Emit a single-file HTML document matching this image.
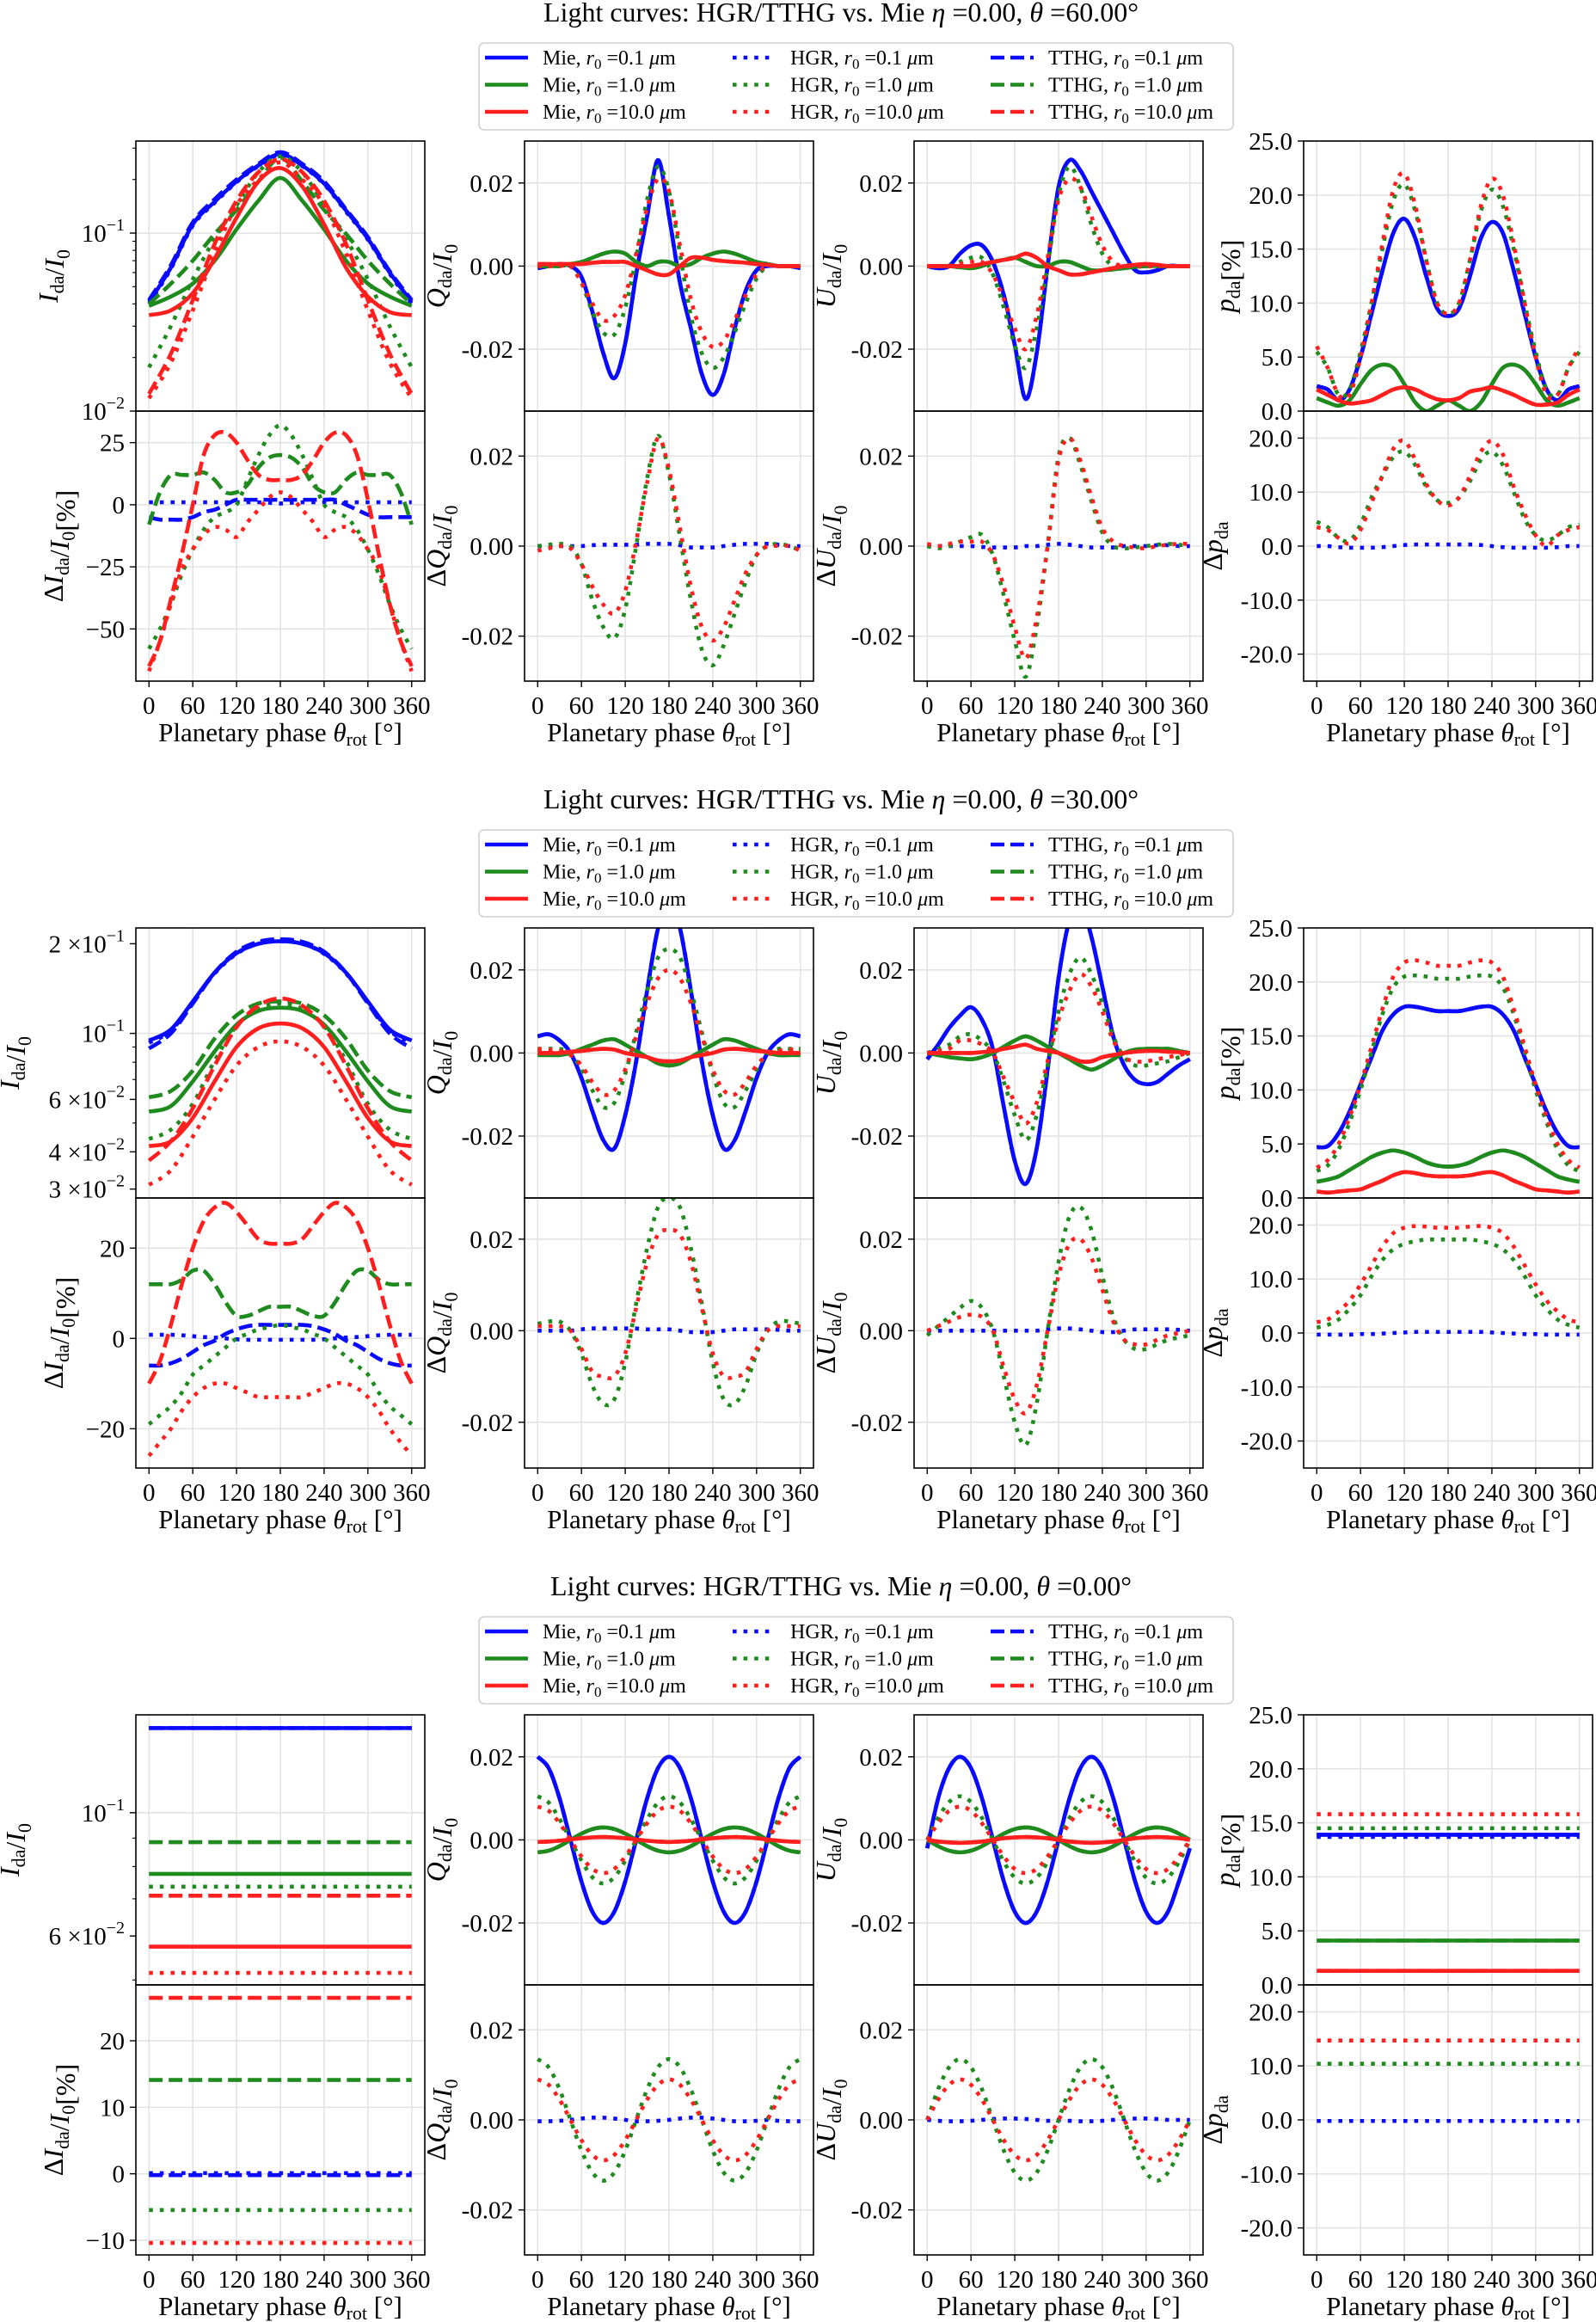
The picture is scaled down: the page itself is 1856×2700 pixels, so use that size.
<!DOCTYPE html>
<html><head><meta charset="utf-8"><title>Light curves</title>
<style>
html,body{margin:0;padding:0;background:#fff;}
svg{display:block;font-family:"Liberation Serif",serif;}
</style></head>
<body>
<svg id="fig" xmlns="http://www.w3.org/2000/svg" width="1856" height="2700" viewBox="0 0 1856 2700"></svg>
<script>
// ---------- data: x grids ----------
const phase15 = [0,15,30,45,60,75,90,105,120,135,150,165,180,195,210,225,240,255,270,285,300,315,330,345,360];
const phase30 = [0,30,60,90,120,150,180,210,240,270,300,330,360];
const phaseEnds = [0,360];
const xTickLabels = ['0','60','120','180','240','300','360'];
const xTickValues = [0,60,120,180,240,300,360];

// ---------- group 1 (theta = 60) ----------
const g1_I_mie_b = [0.041,0.064,0.112,0.150,0.195,0.24,0.278,0.24,0.19,0.134,0.093,0.060,0.041];
const g1_I_hgr_b = [0.040,0.063,0.110,0.148,0.193,0.238,0.275,0.238,0.188,0.132,0.092,0.059,0.040];
const g1_I_tthg_b = [0.042,0.066,0.115,0.155,0.200,0.245,0.285,0.245,0.195,0.136,0.095,0.061,0.042];
const g1_I_mie_g = [0.039,0.044,0.052,0.070,0.105,0.152,0.204,0.152,0.105,0.070,0.052,0.044,0.039];
const g1_I_hgr_g = [0.0176,0.030,0.055,0.093,0.143,0.22,0.27,0.22,0.143,0.093,0.055,0.030,0.0176];
const g1_I_tthg_g = [0.040,0.052,0.070,0.099,0.135,0.195,0.265,0.195,0.135,0.099,0.070,0.052,0.040];
const g1_I_mie_r = [0.0346,0.0368,0.046,0.072,0.122,0.195,0.232,0.183,0.112,0.064,0.044,0.036,0.0346];
const g1_I_hgr_r = [0.0118,0.0187,0.0368,0.077,0.143,0.20,0.25,0.20,0.143,0.077,0.0368,0.0187,0.0118];
const g1_I_tthg_r = [0.0125,0.021,0.042,0.087,0.152,0.22,0.26,0.22,0.152,0.087,0.042,0.021,0.0125];

const g1_dI_hgr_b = [1,1,1,1,1,1,1,1,1,1,1,0.8,0.5,0.8,1,1,1,1,1,1,1,1,1,1,1];
const g1_dI_tthg_b = [-5,-6,-6,-6,-5,-3,-2,0,2,2,2,2,2,2,2,2,2,2,0,-2,-4,-5,-5,-5,-5];
const g1_dI_hgr_g = [-58,-50,-40,-28,-18,-10,-5,-3,0,10,20,28,32,28,20,10,0,-3,-5,-10,-18,-28,-40,-50,-58];
const g1_dI_tthg_g = [-8,5,12,12,12,13,10,5,5,8,15,19,20,19,15,8,5,5,10,13,12,12,12,5,-8];
const g1_dI_hgr_r = [-67,-55,-40,-26,-18,-12,-9,-10,-13,-7,-2,3,5,3,-2,-7,-13,-10,-9,-12,-18,-26,-40,-55,-67];
const g1_dI_tthg_r = [-65,-55,-38,-20,0,20,28,29,25,18,12,10,10,10,12,18,25,29,28,20,2,-20,-40,-55,-65];

const g1_Q_mie_b = [-0.0005,0,0.0005,0,-0.0026,-0.011,-0.021,-0.027,-0.0186,-0.002,0.012,0.0255,0.012,-0.004,-0.015,-0.026,-0.031,-0.026,-0.015,-0.006,-0.001,0,0,0,-0.0005];
const g1_Q_hgr_g = [0,0.0003,0.0005,0,-0.004,-0.011,-0.016,-0.0165,-0.010,0.002,0.016,0.024,0.018,0.003,-0.012,-0.021,-0.0245,-0.022,-0.016,-0.009,-0.003,0,0,0,0];
const g1_Q_mie_g = [0,0,0,0.0005,0.001,0.002,0.003,0.0035,0.003,0.001,0,0.001,0.001,0,0.0005,0.002,0.003,0.0035,0.003,0.002,0.001,0.0005,0,0,0];
const g1_Q_hgr_r = [0,0,0,0,-0.004,-0.009,-0.013,-0.012,-0.007,0.003,0.014,0.021,0.018,0.005,-0.008,-0.016,-0.0195,-0.018,-0.013,-0.007,-0.002,0,0,0,0];
const g1_Q_mie_r = [0.0005,0.0005,0.0005,0.0005,0.0005,0.0008,0.001,0.001,0.001,0,-0.001,-0.002,-0.002,0,0.002,0.002,0.0015,0.0012,0.001,0.0008,0.0005,0.0003,0,0,0];
const g1_dQ_b = [0,0,0,0,0,0.0002,0.0003,0.0003,0.0003,0.0003,0.0005,0.0005,0.0005,0.0002,-0.0003,-0.0003,-0.0003,0,0.0003,0.0005,0.0005,0.0005,0.0003,0,0];
const g1_dQ_g = [0,0.0003,0.0005,0,-0.004,-0.012,-0.018,-0.0205,-0.014,0,0.015,0.0245,0.016,0.002,-0.012,-0.023,-0.0265,-0.022,-0.015,-0.008,-0.002,0,0.0005,0,-0.001];
const g1_dQ_r = [-0.001,-0.0005,0,-0.0005,-0.004,-0.009,-0.013,-0.015,-0.010,0.001,0.014,0.024,0.017,0.004,-0.009,-0.018,-0.021,-0.018,-0.012,-0.006,-0.002,0,0,0,-0.001];

const g1_U_mie_b = [0,-0.0005,0,0.003,0.005,0.005,0.001,-0.007,-0.019,-0.032,-0.021,0,0.019,0.0255,0.023,0.018,0.013,0.008,0.003,-0.001,-0.0015,-0.001,0,0,0];
const g1_U_hgr_g = [0,0,0,0.001,0.002,0.002,-0.002,-0.010,-0.019,-0.0245,-0.015,0,0.017,0.024,0.019,0.010,0.003,0,0,0,0,0,0,0,0];
const g1_U_mie_g = [0,0,0,-0.0003,-0.0005,0,0.001,0.0015,0.002,0.001,0,0,0.001,0.001,0,-0.001,-0.001,-0.0008,-0.0005,-0.0002,0,0,0,0,0];
const g1_U_hgr_r = [0,0,0,0.0005,0.001,0.001,-0.002,-0.008,-0.015,-0.020,-0.012,0.002,0.016,0.021,0.019,0.012,0.005,0.001,0,0,0,0,0,0,0];
const g1_U_mie_r = [0,0,0,0,0,0.0005,0.001,0.0015,0.002,0.003,0.002,0,-0.001,-0.002,-0.002,-0.0015,-0.001,-0.0005,0,0.0003,0.0005,0.0003,0,0,0];
const g1_dU_b = [0,0,0,0,0,-0.0002,-0.0003,-0.0003,-0.0003,0,0,0.0003,0.0005,0.0003,0,-0.0003,-0.0003,-0.0003,0,0,0,0.0002,0.0002,0,0];
const g1_dU_g = [0,-0.0005,0,0.001,0.002,0.0025,-0.002,-0.011,-0.021,-0.029,-0.018,0,0.020,0.024,0.018,0.010,0.003,0,-0.0005,-0.0003,0,0.0003,0.0005,0.0003,0];
const g1_dU_r = [0.0005,0,0.0005,0.001,0.001,0.001,-0.002,-0.009,-0.018,-0.025,-0.016,0,0.019,0.024,0.019,0.011,0.004,0.001,0,-0.0003,-0.0005,0,0.0003,0.0005,0.0005];

const g1_p_mie_b = [2.3,2,1,2,5,9,13,16.5,17.8,16,12.5,9.5,8.8,9.5,12.5,16,17.5,16.5,13,9,5,2,1,2,2.3];
const g1_p_hgr_g = [5.5,4,1.5,2,5.5,10,15,19.5,21,18.5,14,10,9,10,14,18.5,20.5,19,15,10,5.5,2,1.5,4,5.5];
const g1_p_mie_g = [1.2,0.8,0.5,1,2.5,3.8,4.3,4,2.5,0.8,0,0.5,1,0.5,0,0.8,2.5,4,4.3,3.8,2.5,1,0.5,0.8,1.2];
const g1_p_hgr_r = [6,4,1.5,1.5,5,10,15.5,20.5,22,19,14,10,9,10,14,19,21.5,20,15.5,10,5,1.5,1.5,4,6];
const g1_p_mie_r = [2,1.5,1,0.7,0.8,1,1.5,2,2.2,2,1.5,1.1,1,1.2,1.8,2,2.2,1.9,1.5,1,0.6,0.6,0.8,1.5,2];
const g1_dp_b = [0,0,-0.2,-0.3,-0.3,-0.3,-0.2,0,0.2,0.3,0.3,0.3,0.3,0.3,0.3,0.2,0,-0.2,-0.3,-0.3,-0.3,-0.3,-0.2,0,0];
const g1_dp_g = [4.5,3.5,1.5,1,4,9,13,16.5,17.5,15,11,8.5,8,9,12,16,17.5,15,10,5,2,1,2,3.5,4];
const g1_dp_r = [3.5,3,1.5,0.5,3,8,13,18,19.5,16,11.5,8.5,7.5,9,13,17.5,19.5,17,11,6,2,0,2,3,3.5];

// ---------- group 2 (theta = 30) ----------
const g2_I_mie_b = [0.0946,0.103,0.128,0.160,0.186,0.200,0.204,0.200,0.186,0.160,0.128,0.103,0.0946];
const g2_I_hgr_b = [0.093,0.102,0.127,0.159,0.185,0.200,0.204,0.200,0.185,0.159,0.127,0.102,0.093];
const g2_I_tthg_b = [0.089,0.100,0.126,0.160,0.188,0.203,0.207,0.203,0.188,0.160,0.126,0.100,0.089];
const g2_I_mie_g = [0.0546,0.057,0.069,0.087,0.107,0.119,0.122,0.119,0.107,0.087,0.069,0.057,0.0546];
const g2_I_hgr_g = [0.0442,0.0475,0.058,0.081,0.106,0.121,0.126,0.121,0.106,0.081,0.058,0.0475,0.0442];
const g2_I_tthg_g = [0.061,0.064,0.075,0.096,0.115,0.126,0.128,0.126,0.115,0.096,0.075,0.064,0.061];
const g2_I_mie_r = [0.0418,0.0434,0.052,0.069,0.090,0.104,0.108,0.104,0.090,0.069,0.052,0.0434,0.0418];
const g2_I_hgr_r = [0.031,0.0347,0.045,0.060,0.078,0.090,0.094,0.090,0.078,0.060,0.045,0.0347,0.031];
const g2_I_tthg_r = [0.0374,0.0434,0.056,0.078,0.105,0.124,0.131,0.124,0.105,0.078,0.056,0.0434,0.0374];

const g2_dI_hgr_b = [0.8,0.8,0.8,0.7,0.5,0.3,0.2,0,-0.2,-0.3,-0.3,-0.3,-0.3,-0.3,-0.3,-0.3,-0.2,0,0.2,0.3,0.5,0.7,0.8,0.8,0.8];
const g2_dI_tthg_b = [-6,-6,-5.5,-4.5,-3,-1.5,-0.5,1,2,2.7,3,3,3,3,3,2.7,2,1,-0.5,-1.5,-3,-4.5,-5.5,-6,-6];
const g2_dI_hgr_g = [-19,-17,-15,-12,-8,-6,-4,-2,0,1,2,2.5,3,2.5,2,1,0,-2,-4,-6,-8,-12,-15,-17,-19];
const g2_dI_tthg_g = [12,12,12,13,15,15,12,8,5,5,6,7,7,7,6,5,5,8,12,15,15,13,12,12,12];
const g2_dI_hgr_r = [-26,-23,-20,-16,-13,-11,-10,-10,-11,-12,-13,-13,-13,-13,-13,-12,-11,-10,-10,-11,-13,-16,-20,-23,-26];
const g2_dI_tthg_r = [-10,-5,3,12,20,26,29,30,28,25,22,21,21,21,22,25,28,30,29,26,20,12,3,-5,-10];

const g2_Q_mie_b = [0.004,0.0045,0.003,0,-0.006,-0.014,-0.021,-0.023,-0.015,-0.002,0.015,0.030,0.036,0.030,0.015,-0.002,-0.015,-0.023,-0.021,-0.014,-0.006,0,0.003,0.0045,0.004];
const g2_Q_hgr_g = [0.001,0.001,0.001,0,-0.004,-0.009,-0.013,-0.012,-0.005,0.005,0.015,0.023,0.025,0.023,0.015,0.005,-0.005,-0.012,-0.013,-0.009,-0.004,0,0.001,0.001,0.001];
const g2_Q_mie_g = [-0.0005,-0.0005,-0.0005,0,0.001,0.002,0.003,0.0033,0.002,0.0005,-0.001,-0.0025,-0.003,-0.0025,-0.001,0.0005,0.002,0.0033,0.003,0.002,0.001,0,-0.0005,-0.0005,-0.0005];
const g2_Q_hgr_r = [0.001,0.0008,0.0005,-0.0005,-0.003,-0.007,-0.010,-0.009,-0.004,0.004,0.012,0.018,0.020,0.018,0.012,0.004,-0.004,-0.009,-0.010,-0.007,-0.003,-0.0005,0.0005,0.0008,0.001];
const g2_Q_mie_r = [0,0,0,0.0003,0.0005,0.0008,0.001,0.0008,0,-0.0005,-0.001,-0.0018,-0.002,-0.0018,-0.001,-0.0005,0,0.0008,0.001,0.0008,0.0005,0.0003,0,0,0];
const g2_dQ_b = [0,0,0,0,0.0003,0.0005,0.0005,0.0005,0.0005,0.0005,0.0003,0.0003,0.0003,0,-0.0003,-0.0003,-0.0003,0,0.0003,0.0003,0.0003,0.0003,0.0002,0,0];
const g2_dQ_g = [0.0015,0.002,0.002,0,-0.005,-0.012,-0.016,-0.015,-0.007,0.006,0.018,0.027,0.029,0.027,0.018,0.006,-0.007,-0.015,-0.016,-0.012,-0.005,0,0.002,0.002,0.0015];
const g2_dQ_r = [0.001,0.001,0.001,0,-0.004,-0.009,-0.010,-0.010,-0.005,0.005,0.015,0.021,0.022,0.021,0.015,0.005,-0.005,-0.010,-0.010,-0.009,-0.004,0,0.001,0.001,0.001];

const g2_U_mie_b = [-0.0015,0.002,0.006,0.009,0.011,0.008,0.001,-0.013,-0.026,-0.0315,-0.023,-0.004,0.018,0.032,0.036,0.028,0.016,0.004,-0.003,-0.0065,-0.0075,-0.007,-0.005,-0.003,-0.0015];
const g2_U_hgr_g = [0,0.001,0.002,0.004,0.0045,0.003,0,-0.007,-0.015,-0.021,-0.015,-0.003,0.010,0.019,0.023,0.019,0.012,0.004,-0.001,-0.003,-0.003,-0.0025,-0.002,-0.001,0];
const g2_U_mie_g = [0,-0.0005,-0.001,-0.0013,-0.0015,-0.001,0,0.0015,0.003,0.004,0.003,0.0015,0,-0.0015,-0.003,-0.004,-0.003,-0.0015,0,0.0008,0.001,0.001,0.001,0.0005,0];
const g2_U_hgr_r = [0,0.0005,0.001,0.003,0.003,0.002,0,-0.006,-0.012,-0.017,-0.012,-0.002,0.008,0.015,0.019,0.016,0.010,0.003,-0.001,-0.002,-0.002,-0.0015,-0.001,-0.0005,0];
const g2_U_mie_r = [0,0,0,0,0,0.0002,0.0005,0.001,0.0015,0.002,0.001,0.0005,0,-0.001,-0.002,-0.002,-0.001,-0.0005,0,0.0003,0.0005,0.0005,0.0003,0.0002,0];
const g2_dU_b = [0,0,0,0,0,0,0,0,0,0,0,0.0003,0.0005,0.0005,0.0003,0,-0.0003,-0.0003,0,0.0003,0.0003,0.0003,0.0003,0.0002,0];
const g2_dU_g = [-0.001,0.001,0.003,0.005,0.0065,0.005,0,-0.010,-0.020,-0.025,-0.016,0,0.015,0.025,0.027,0.022,0.012,0.003,-0.002,-0.004,-0.004,-0.003,-0.002,-0.0015,-0.001];
const g2_dU_r = [0,0.001,0.002,0.003,0.0035,0.003,0,-0.008,-0.015,-0.018,-0.012,0,0.012,0.019,0.020,0.016,0.009,0.002,-0.002,-0.003,-0.003,-0.002,-0.001,-0.0005,0];

const g2_p_mie_b = [4.7,4.8,6,8,10.5,13,15.5,17,17.7,17.7,17.5,17.3,17.3,17.3,17.5,17.7,17.7,17,15.5,13,10.5,8,6,4.8,4.7];
const g2_p_hgr_g = [2.5,3,4.5,7,10,13.5,17,19.5,20.5,20.6,20.5,20.3,20.3,20.3,20.5,20.6,20.5,19.5,17,13.5,10,7,4.5,3,2.5];
const g2_p_mie_g = [1.5,1.7,2,2.6,3.2,3.8,4.2,4.4,4.2,3.8,3.3,3,2.9,3,3.3,3.8,4.2,4.4,4.2,3.8,3.2,2.6,2,1.7,1.5];
const g2_p_hgr_r = [2.8,3.5,5,7.5,10.5,14,17.5,20.5,21.8,22,21.8,21.5,21.5,21.5,21.8,22,21.8,20.5,17.5,14,10.5,7.5,5,3.5,2.8];
const g2_p_mie_r = [0.6,0.5,0.6,0.7,0.8,1.2,1.6,2.1,2.4,2.3,2.1,2,2,2,2.1,2.3,2.4,2.1,1.6,1.2,0.8,0.7,0.6,0.5,0.6];
const g2_dp_b = [-0.3,-0.3,-0.3,-0.3,-0.2,-0.2,-0.1,0,0.1,0.2,0.2,0.2,0.2,0.2,0.2,0.2,0.1,0,-0.1,-0.2,-0.2,-0.3,-0.3,-0.3,-0.3];
const g2_dp_g = [1,1.5,2.5,4.5,7,10.5,13.5,15.5,16.5,17,17.3,17.3,17.3,17.3,17.3,17,16.5,15.5,13.5,10.5,7,4.5,2.5,1.5,1];
const g2_dp_r = [2,2.5,4,6,9,12.5,16,18.5,19.5,19.8,19.7,19.5,19.5,19.5,19.7,19.8,19.5,18.5,16,12.5,9,6,4,2.5,2];

// ---------- group 3 (theta = 0) ----------
const g3_I_mie_b = [0.142,0.142];
const g3_I_hgr_b = [0.142,0.142];
const g3_I_tthg_b = [0.142,0.142];
const g3_I_mie_g = [0.0776,0.0776];
const g3_I_hgr_g = [0.0736,0.0736];
const g3_I_tthg_g = [0.0885,0.0885];
const g3_I_mie_r = [0.0574,0.0574];
const g3_I_hgr_r = [0.0515,0.0515];
const g3_I_tthg_r = [0.0709,0.0709];
const g3_dI_hgr_b = [0.1,0.1];
const g3_dI_tthg_b = [-0.2,-0.2];
const g3_dI_hgr_g = [-5.45,-5.45];
const g3_dI_tthg_g = [14.1,14.1];
const g3_dI_hgr_r = [-10.4,-10.4];
const g3_dI_tthg_r = [26.45,26.45];

const g3_Q_mie_b = [0.02,0.0173,0.01,0,-0.01,-0.0173,-0.02,-0.0173,-0.01,0,0.01,0.0173,0.02,0.0173,0.01,0,-0.01,-0.0173,-0.02,-0.0173,-0.01,0,0.01,0.0173,0.02];
const g3_Q_hgr_g = [0.0105,0.009,0.005,0,-0.005,-0.009,-0.0105,-0.009,-0.005,0,0.005,0.009,0.0105,0.009,0.005,0,-0.005,-0.009,-0.0105,-0.009,-0.005,0,0.005,0.009,0.0105];
const g3_Q_mie_g = [-0.003,-0.0026,-0.0015,0,0.0015,0.0026,0.003,0.0026,0.0015,0,-0.0015,-0.0026,-0.003,-0.0026,-0.0015,0,0.0015,0.0026,0.003,0.0026,0.0015,0,-0.0015,-0.0026,-0.003];
const g3_Q_hgr_r = [0.008,0.007,0.004,0,-0.004,-0.007,-0.008,-0.007,-0.004,0,0.004,0.007,0.008,0.007,0.004,0,-0.004,-0.007,-0.008,-0.007,-0.004,0,0.004,0.007,0.008];
const g3_Q_mie_r = [-0.0005,-0.0004,-0.0002,0.0001,0.0004,0.0006,0.0007,0.0006,0.0004,0.0001,-0.0002,-0.0004,-0.0005,-0.0004,-0.0002,0.0001,0.0004,0.0006,0.0007,0.0006,0.0004,0.0001,-0.0002,-0.0004,-0.0005];
const g3_dQ_b = [-0.0003,-0.0003,-0.0002,0,0.0003,0.0005,0.0005,0.0003,0,-0.0003,-0.0003,-0.0002,0,0.0003,0.0005,0.0005,0.0003,0,-0.0003,-0.0003,-0.0002,0,-0.0002,-0.0003,-0.0003];
const g3_dQ_g = [0.0135,0.0117,0.0068,0,-0.0068,-0.0117,-0.0135,-0.0117,-0.0068,0,0.0068,0.0117,0.0135,0.0117,0.0068,0,-0.0068,-0.0117,-0.0135,-0.0117,-0.0068,0,0.0068,0.0117,0.0135];
const g3_dQ_r = [0.009,0.0078,0.0045,0,-0.0045,-0.0078,-0.009,-0.0078,-0.0045,0,0.0045,0.0078,0.009,0.0078,0.0045,0,-0.0045,-0.0078,-0.009,-0.0078,-0.0045,0,0.0045,0.0078,0.009];

const g3_U_mie_b = [-0.002,0.01,0.0173,0.02,0.0173,0.01,0,-0.01,-0.0173,-0.02,-0.0173,-0.01,0,0.01,0.0173,0.02,0.0173,0.01,0,-0.01,-0.0173,-0.02,-0.0173,-0.01,-0.002];
const g3_U_hgr_g = [0,0.0053,0.0091,0.0105,0.0091,0.0053,0,-0.0053,-0.0091,-0.0105,-0.0091,-0.0053,0,0.0053,0.0091,0.0105,0.0091,0.0053,0,-0.0053,-0.0091,-0.0105,-0.0091,-0.0053,0];
const g3_U_mie_g = [0,-0.0015,-0.0026,-0.003,-0.0026,-0.0015,0,0.0015,0.0026,0.003,0.0026,0.0015,0,-0.0015,-0.0026,-0.003,-0.0026,-0.0015,0,0.0015,0.0026,0.003,0.0026,0.0015,0];
const g3_U_hgr_r = [0,0.004,0.007,0.008,0.007,0.004,0,-0.004,-0.007,-0.008,-0.007,-0.004,0,0.004,0.007,0.008,0.007,0.004,0,-0.004,-0.007,-0.008,-0.007,-0.004,0];
const g3_U_mie_r = [0,-0.0004,-0.0006,-0.0007,-0.0006,-0.0004,0,0.0004,0.0006,0.0007,0.0006,0.0004,0,-0.0004,-0.0006,-0.0007,-0.0006,-0.0004,0,0.0004,0.0006,0.0007,0.0006,0.0004,0];
const g3_dU_b = [0,-0.0002,-0.0003,-0.0003,-0.0002,0,0.0002,0.0003,0.0003,0.0002,0,-0.0002,0,-0.0002,-0.0003,-0.0003,-0.0002,0,0.0002,0.0003,0.0003,0.0002,0,0,0];
const g3_dU_g = [0,0.0068,0.0117,0.0135,0.0117,0.0068,0,-0.0068,-0.0117,-0.0135,-0.0117,-0.0068,0,0.0068,0.0117,0.0135,0.0117,0.0068,0,-0.0068,-0.0117,-0.0135,-0.0117,-0.0068,0];
const g3_dU_r = [0,0.0045,0.0078,0.009,0.0078,0.0045,0,-0.0045,-0.0078,-0.009,-0.0078,-0.0045,0,0.0045,0.0078,0.009,0.0078,0.0045,0,-0.0045,-0.0078,-0.009,-0.0078,-0.0045,0];

const g3_p_mie_b = [13.9,13.9];
const g3_p_hgr_b = [13.7,13.7];
const g3_p_hgr_g = [14.5,14.5];
const g3_p_mie_g = [4.1,4.1];
const g3_p_hgr_r = [15.8,15.8];
const g3_p_mie_r = [1.3,1.3];
const g3_dp_b = [-0.2,-0.2];
const g3_dp_g = [10.4,10.4];
const g3_dp_r = [14.7,14.7];

// ---------- rendering ----------
const NS = 'http://www.w3.org/2000/svg';
const svg = document.getElementById('fig');
const CB = '#0a0aff', CG = '#1f8b1f', CR = '#ff1f1f';
const LW = 4.6;
const DASH = {solid: null, dotted: '4.6,8', dashed: '16,7'};
const COLS = [158, 610, 1063, 1516];
const AW = 336, AH = 314;
const GROUP_DY = 915;
const TICK_FS = 29;
let clipId = 0;

function el(tag, attrs, parent) {
  const e = document.createElementNS(NS, tag);
  for (const k in attrs) e.setAttribute(k, attrs[k]);
  (parent || svg).appendChild(e);
  return e;
}
function xPix(left, v) { return left + AW * (v + 18) / 396; }
function yPix(ax, v) {
  if (ax.log) {
    const a = Math.log10(ax.lo), b = Math.log10(ax.hi);
    return ax.top + AH * (b - Math.log10(v)) / (b - a);
  }
  return ax.top + AH * (ax.hi - v) / (ax.hi - ax.lo);
}
function smoothPath(pts) {
  let d = 'M' + pts[0][0].toFixed(2) + ',' + pts[0][1].toFixed(2);
  for (let i = 0; i < pts.length - 1; i++) {
    const p0 = pts[i - 1] || pts[i], p1 = pts[i], p2 = pts[i + 1], p3 = pts[i + 2] || p2;
    const c1 = [p1[0] + (p2[0] - p0[0]) / 6, p1[1] + (p2[1] - p0[1]) / 6];
    const c2 = [p2[0] - (p3[0] - p1[0]) / 6, p2[1] - (p3[1] - p1[1]) / 6];
    d += 'C' + c1[0].toFixed(2) + ',' + c1[1].toFixed(2) + ' ' + c2[0].toFixed(2) + ',' + c2[1].toFixed(2) + ' ' + p2[0].toFixed(2) + ',' + p2[1].toFixed(2);
  }
  return d;
}
function S(x, y, color, style, name) { return {x, y, color, style, name}; }
function pow10(mant, exp) {
  return (mant ? mant + '×' : '') + '10<tspan dy="-13" font-size="20">−' + exp + '</tspan>';
}

function drawAxes(g, ax, left, yl, showXLabels, name) {
  const grp = el('g', {}, g);
  
  
  const right = left + AW, bottom = ax.top + AH;
  xTickValues.forEach(v => {
    const gl = el('line', {x1: xPix(left, v), x2: xPix(left, v), y1: ax.top, y2: bottom, stroke: '#e3e3e3', 'stroke-width': 1.6}, grp);
    
    
  });
  ax.ticks.forEach(t => {
    if (t.grid === false) return;
    const y = yPix(ax, t.v);
    const gl = el('line', {x1: left, x2: right, y1: y, y2: y, stroke: '#e3e3e3', 'stroke-width': 1.6}, grp);
    
    
  });
  const cid = 'clip' + (clipId++);
  const cp = el('clipPath', {id: cid}, grp);
  el('rect', {x: left, y: ax.top, width: AW, height: AH}, cp);
  const lines = el('g', {'clip-path': 'url(#' + cid + ')'}, grp);
  
  
  ax.series.forEach(s => {
    const pts = s.x.map((xv, i) => [xPix(left, xv), yPix(ax, s.y[i])]);
    const p = el('path', {d: smoothPath(pts), fill: 'none', stroke: s.color, 'stroke-width': LW, 'stroke-linejoin': 'round'}, lines);
    if (DASH[s.style]) p.setAttribute('stroke-dasharray', DASH[s.style]);
    
    
  });
  const fr = el('rect', {x: left, y: ax.top, width: AW, height: AH, fill: 'none', stroke: '#000', 'stroke-width': 1.6}, grp);
  
  
  ax.ticks.forEach(t => {
    const y = yPix(ax, t.v);
    el('line', {x1: left - 7, x2: left, y1: y, y2: y, stroke: '#000', 'stroke-width': 1.4}, grp);
    const tx = el('text', {x: left - 13, y: y + 10, 'text-anchor': 'end', 'font-size': TICK_FS, fill: '#000'}, grp);
    tx.innerHTML = t.l;
    
    
  });
  (ax.minor || []).forEach(v => {
    const y = yPix(ax, v);
    el('line', {x1: left - 4, x2: left, y1: y, y2: y, stroke: '#000', 'stroke-width': 1.1}, grp);
  });
  xTickValues.forEach((v, i) => {
    const x = xPix(left, v);
    el('line', {x1: x, x2: x, y1: bottom, y2: bottom + 7, stroke: '#000', 'stroke-width': 1.4}, grp);
    if (showXLabels) {
      const tx = el('text', {x: x, y: bottom + 38, 'text-anchor': 'middle', 'font-size': TICK_FS, fill: '#000'}, grp);
      tx.textContent = xTickLabels[i];
      
      
    }
  });
  const yc = ax.top + AH / 2;
  const yt = el('text', {x: 0, y: 0, 'text-anchor': 'middle', 'font-size': 32, fill: '#000', transform: 'translate(' + (yl.x + 11) + ',' + yc + ') rotate(-90)'}, grp);
  yt.innerHTML = yl.t;
  
  
  if (showXLabels) {
    const xt = el('text', {x: left + AW / 2, y: bottom + 70, 'text-anchor': 'middle', 'font-size': 31, fill: '#000'}, grp);
    xt.innerHTML = 'Planetary phase <tspan font-style="italic">θ</tspan><tspan dy="5" font-size="22">rot</tspan><tspan dy="-5"> [°]</tspan>';
    
    
  }
}

const sub = s => '<tspan dy="7" font-size="22">' + s + '</tspan><tspan dy="-7"></tspan>';
const it = s => '<tspan font-style="italic">' + s + '</tspan>';
const YL = {
  I: it('I') + sub('da') + '/' + it('I') + sub('0'),
  dI: 'Δ' + it('I') + sub('da') + '/' + it('I') + sub('0') + '[%]',
  Q: it('Q') + sub('da') + '/' + it('I') + sub('0'),
  dQ: 'Δ' + it('Q') + sub('da') + '/' + it('I') + sub('0'),
  U: it('U') + sub('da') + '/' + it('I') + sub('0'),
  dU: 'Δ' + it('U') + sub('da') + '/' + it('I') + sub('0'),
  p: it('p') + sub('da') + '[%]',
  dp: 'Δ' + it('p') + sub('da')
};
const qTicks = [{v: 0.02, l: '0.02'}, {v: 0, l: '0.00'}, {v: -0.02, l: '-0.02'}];
const pTicks = [0, 5, 10, 15, 20, 25].map(v => ({v, l: v.toFixed(1)}));
const dpTicks = [20, 10, 0, -10, -20].map(v => ({v, l: v.toFixed(1)}));

function trio(xs, mieB, hgrB, tthgB, mieG, hgrG, tthgG, mieR, hgrR, tthgR) {
  return [
    S(xs, mieB, CB, 'solid', 'mie-r0.1'), S(xs, hgrB, CB, 'dotted', 'hgr-r0.1'), S(xs, tthgB, CB, 'dashed', 'tthg-r0.1'),
    S(xs, mieG, CG, 'solid', 'mie-r1.0'), S(xs, hgrG, CG, 'dotted', 'hgr-r1.0'), S(xs, tthgG, CG, 'dashed', 'tthg-r1.0'),
    S(xs, mieR, CR, 'solid', 'mie-r10.0'), S(xs, hgrR, CR, 'dotted', 'hgr-r10.0'), S(xs, tthgR, CR, 'dashed', 'tthg-r10.0')
  ];
}
function dots(xs, b, g, r) {
  return [S(xs, b, CB, 'dotted', 'delta-hgr-r0.1'), S(xs, g, CG, 'dotted', 'delta-hgr-r1.0'), S(xs, r, CR, 'dotted', 'delta-hgr-r10.0')];
}

function drawLegend(g, oy) {
  const lg = el('g', {}, g);
  
  
  el('rect', {x: 557, y: oy + 50, width: 877, height: 101, rx: 6, fill: '#fff', stroke: '#d0d0d0', 'stroke-width': 1.6}, lg);
  const cols = [{x: 564, style: 'solid', lab: 'Mie'}, {x: 852, style: 'dotted', lab: 'HGR'}, {x: 1152, style: 'dashed', lab: 'TTHG'}];
  const rows = [{c: CB, r: '0.1'}, {c: CG, r: '1.0'}, {c: CR, r: '10.0'}];
  cols.forEach(c => rows.forEach((r, j) => {
    const y = oy + 67 + j * 31.5;
    const ent = el('g', {}, lg);
    
    
    const ln = el('line', {x1: c.x, x2: c.x + 50, y1: y, y2: y, stroke: r.c, 'stroke-width': LW}, ent);
    if (DASH[c.style]) ln.setAttribute('stroke-dasharray', DASH[c.style]);
    const t = el('text', {x: c.x + 67, y: y + 8, 'font-size': 24, fill: '#000'}, ent);
    t.innerHTML = c.lab + ', ' + it('r') + '<tspan dy="5" font-size="17">0</tspan><tspan dy="-5"> =' + r.r + ' </tspan>' + it('μ') + 'm';
  }));
}

function drawGroup(gi, theta, spec) {
  const oy = gi * GROUP_DY;
  const g = el('g', {});
  
  
  const title = el('text', {x: 978, y: oy + 25, 'text-anchor': 'middle', 'font-size': 32, fill: '#000'}, g);
  title.innerHTML = 'Light curves: HGR/TTHG vs. Mie ' + it('η') + ' =0.00, ' + it('θ') + ' =' + theta + '°';
  
  
  drawLegend(g, oy);
  const top = oy + 164, mid = oy + 478;
  const names = [['I', 'dI'], ['Q', 'dQ'], ['U', 'dU'], ['p', 'dp']];
  names.forEach((pair, ci) => {
    const a = spec[pair[0]], b = spec[pair[1]];
    a.top = top; b.top = mid;
    drawAxes(g, a, COLS[ci], {x: spec.ylx[ci][0], t: YL[pair[0]]}, false, pair[0] + '-panel');
    drawAxes(g, b, COLS[ci], {x: spec.ylx[ci][1], t: YL[pair[1]]}, true, pair[1] + '-panel');
  });
}

drawGroup(0, '60.00', {
  ylx: [[56, 62], [507, 507], [960, 960], [1424, 1410]],
  I: {log: true, lo: 0.01, hi: 0.329, ticks: [{v: 0.1, l: pow10('', 1)}, {v: 0.01, l: pow10('', 2)}],
      minor: [0.02,0.03,0.04,0.05,0.06,0.07,0.08,0.09,0.2,0.3],
      series: trio(phase30, g1_I_mie_b, g1_I_hgr_b, g1_I_tthg_b, g1_I_mie_g, g1_I_hgr_g, g1_I_tthg_g, g1_I_mie_r, g1_I_hgr_r, g1_I_tthg_r)},
  dI: {lo: -71, hi: 37.7, ticks: [{v: 25, l: '25'}, {v: 0, l: '0'}, {v: -25, l: '−25'}, {v: -50, l: '−50'}],
      series: [S(phase15, g1_dI_hgr_b, CB, 'dotted', 'delta-hgr-r0.1'), S(phase15, g1_dI_tthg_b, CB, 'dashed', 'delta-tthg-r0.1'),
               S(phase15, g1_dI_hgr_g, CG, 'dotted', 'delta-hgr-r1.0'), S(phase15, g1_dI_tthg_g, CG, 'dashed', 'delta-tthg-r1.0'),
               S(phase15, g1_dI_hgr_r, CR, 'dotted', 'delta-hgr-r10.0'), S(phase15, g1_dI_tthg_r, CR, 'dashed', 'delta-tthg-r10.0')]},
  Q: {lo: -0.0349, hi: 0.0301, ticks: qTicks,
      series: trio(phase15, g1_Q_mie_b, g1_Q_mie_b, g1_Q_mie_b, g1_Q_mie_g, g1_Q_hgr_g, g1_Q_mie_g, g1_Q_mie_r, g1_Q_hgr_r, g1_Q_mie_r)},
  dQ: {lo: -0.030, hi: 0.030, ticks: qTicks, series: dots(phase15, g1_dQ_b, g1_dQ_g, g1_dQ_r)},
  U: {lo: -0.0349, hi: 0.0301, ticks: qTicks,
      series: trio(phase15, g1_U_mie_b, g1_U_mie_b, g1_U_mie_b, g1_U_mie_g, g1_U_hgr_g, g1_U_mie_g, g1_U_mie_r, g1_U_hgr_r, g1_U_mie_r)},
  dU: {lo: -0.030, hi: 0.030, ticks: qTicks, series: dots(phase15, g1_dU_b, g1_dU_g, g1_dU_r)},
  p: {lo: 0, hi: 25, ticks: pTicks,
      series: trio(phase15, g1_p_mie_b, g1_p_mie_b, g1_p_mie_b, g1_p_mie_g, g1_p_hgr_g, g1_p_mie_g, g1_p_mie_r, g1_p_hgr_r, g1_p_mie_r)},
  dp: {lo: -25, hi: 25, ticks: dpTicks, series: dots(phase15, g1_dp_b, g1_dp_g, g1_dp_r)}
});

drawGroup(1, '30.00', {
  ylx: [[11, 62], [507, 507], [960, 960], [1424, 1410]],
  I: {log: true, lo: 0.028, hi: 0.226,
      ticks: [{v: 0.2, l: pow10('2 ', 1), grid: false}, {v: 0.1, l: pow10('', 1)}, {v: 0.06, l: pow10('6 ', 2), grid: false}, {v: 0.04, l: pow10('4 ', 2), grid: false}, {v: 0.03, l: pow10('3 ', 2), grid: false}],
      minor: [0.05,0.07,0.08,0.09],
      series: trio(phase30, g2_I_mie_b, g2_I_hgr_b, g2_I_tthg_b, g2_I_mie_g, g2_I_hgr_g, g2_I_tthg_g, g2_I_mie_r, g2_I_hgr_r, g2_I_tthg_r)},
  dI: {lo: -28.7, hi: 31.1, ticks: [{v: 20, l: '20'}, {v: 0, l: '0'}, {v: -20, l: '−20'}],
      series: [S(phase15, g2_dI_hgr_b, CB, 'dotted', 'delta-hgr-r0.1'), S(phase15, g2_dI_tthg_b, CB, 'dashed', 'delta-tthg-r0.1'),
               S(phase15, g2_dI_hgr_g, CG, 'dotted', 'delta-hgr-r1.0'), S(phase15, g2_dI_tthg_g, CG, 'dashed', 'delta-tthg-r1.0'),
               S(phase15, g2_dI_hgr_r, CR, 'dotted', 'delta-hgr-r10.0'), S(phase15, g2_dI_tthg_r, CR, 'dashed', 'delta-tthg-r10.0')]},
  Q: {lo: -0.0349, hi: 0.0301, ticks: qTicks,
      series: trio(phase15, g2_Q_mie_b, g2_Q_mie_b, g2_Q_mie_b, g2_Q_mie_g, g2_Q_hgr_g, g2_Q_mie_g, g2_Q_mie_r, g2_Q_hgr_r, g2_Q_mie_r)},
  dQ: {lo: -0.030, hi: 0.029, ticks: qTicks, series: dots(phase15, g2_dQ_b, g2_dQ_g, g2_dQ_r)},
  U: {lo: -0.0349, hi: 0.0301, ticks: qTicks,
      series: trio(phase15, g2_U_mie_b, g2_U_mie_b, g2_U_mie_b, g2_U_mie_g, g2_U_hgr_g, g2_U_mie_g, g2_U_mie_r, g2_U_hgr_r, g2_U_mie_r)},
  dU: {lo: -0.030, hi: 0.029, ticks: qTicks, series: dots(phase15, g2_dU_b, g2_dU_g, g2_dU_r)},
  p: {lo: 0, hi: 25, ticks: pTicks,
      series: trio(phase15, g2_p_mie_b, g2_p_mie_b, g2_p_mie_b, g2_p_mie_g, g2_p_hgr_g, g2_p_mie_g, g2_p_mie_r, g2_p_hgr_r, g2_p_mie_r)},
  dp: {lo: -25, hi: 25, ticks: dpTicks, series: dots(phase15, g2_dp_b, g2_dp_g, g2_dp_r)}
});

drawGroup(2, '0.00', {
  ylx: [[11, 62], [507, 507], [960, 960], [1424, 1410]],
  I: {log: true, lo: 0.049, hi: 0.150,
      ticks: [{v: 0.1, l: pow10('', 1)}, {v: 0.06, l: pow10('6 ', 2), grid: false}],
      minor: [0.05,0.07,0.08,0.09],
      series: trio(phaseEnds, g3_I_mie_b, g3_I_hgr_b, g3_I_tthg_b, g3_I_mie_g, g3_I_hgr_g, g3_I_tthg_g, g3_I_mie_r, g3_I_hgr_r, g3_I_tthg_r)},
  dI: {lo: -12.2, hi: 28.4, ticks: [{v: 20, l: '20'}, {v: 10, l: '10'}, {v: 0, l: '0'}, {v: -10, l: '−10'}],
      series: [S(phaseEnds, g3_dI_hgr_b, CB, 'dotted', 'delta-hgr-r0.1'), S(phaseEnds, g3_dI_tthg_b, CB, 'dashed', 'delta-tthg-r0.1'),
               S(phaseEnds, g3_dI_hgr_g, CG, 'dotted', 'delta-hgr-r1.0'), S(phaseEnds, g3_dI_tthg_g, CG, 'dashed', 'delta-tthg-r1.0'),
               S(phaseEnds, g3_dI_hgr_r, CR, 'dotted', 'delta-hgr-r10.0'), S(phaseEnds, g3_dI_tthg_r, CR, 'dashed', 'delta-tthg-r10.0')]},
  Q: {lo: -0.0349, hi: 0.0301, ticks: qTicks,
      series: trio(phase15, g3_Q_mie_b, g3_Q_mie_b, g3_Q_mie_b, g3_Q_mie_g, g3_Q_hgr_g, g3_Q_mie_g, g3_Q_mie_r, g3_Q_hgr_r, g3_Q_mie_r)},
  dQ: {lo: -0.030, hi: 0.030, ticks: qTicks, series: dots(phase15, g3_dQ_b, g3_dQ_g, g3_dQ_r)},
  U: {lo: -0.0349, hi: 0.0301, ticks: qTicks,
      series: trio(phase15, g3_U_mie_b, g3_U_mie_b, g3_U_mie_b, g3_U_mie_g, g3_U_hgr_g, g3_U_mie_g, g3_U_mie_r, g3_U_hgr_r, g3_U_mie_r)},
  dU: {lo: -0.030, hi: 0.030, ticks: qTicks, series: dots(phase15, g3_dU_b, g3_dU_g, g3_dU_r)},
  p: {lo: 0, hi: 25, ticks: pTicks,
      series: trio(phaseEnds, g3_p_mie_b, g3_p_hgr_b, g3_p_mie_b, g3_p_mie_g, g3_p_hgr_g, g3_p_mie_g, g3_p_mie_r, g3_p_hgr_r, g3_p_mie_r)},
  dp: {lo: -25, hi: 25, ticks: dpTicks, series: dots(phaseEnds, g3_dp_b, g3_dp_g, g3_dp_r)}
});
</script>
</body></html>
